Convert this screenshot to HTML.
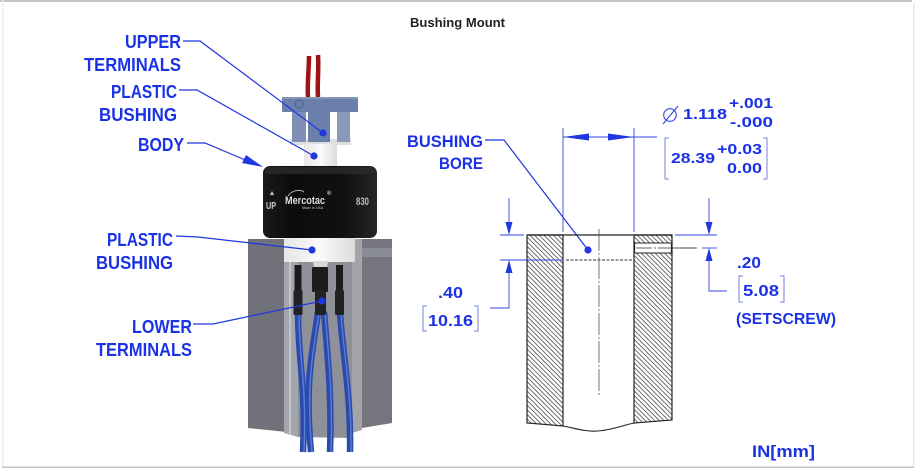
<!DOCTYPE html>
<html><head><meta charset="utf-8"><style>
html,body{margin:0;padding:0;background:#fff;width:915px;height:468px;overflow:hidden}
svg{display:block}
text{font-family:"Liberation Sans",sans-serif;font-weight:bold}
</style></head><body>
<svg width="915" height="468" viewBox="0 0 915 468" xmlns="http://www.w3.org/2000/svg">
<defs>
<pattern id="hat" width="3.3" height="3.3" patternUnits="userSpaceOnUse" patternTransform="rotate(-45)">
<rect width="3.3" height="3.3" fill="#fff"/>
<line x1="0.5" y1="0" x2="0.5" y2="3.3" stroke="#333" stroke-width="0.7"/>
</pattern>
<linearGradient id="bodyg" x1="0" y1="0" x2="1" y2="0">
<stop offset="0" stop-color="#1a1a1a"/><stop offset="0.25" stop-color="#0c0c0c"/><stop offset="0.7" stop-color="#101010"/><stop offset="1" stop-color="#262626"/>
</linearGradient>
<linearGradient id="whg" x1="0" y1="0" x2="1" y2="0">
<stop offset="0" stop-color="#e6e6e6"/><stop offset="0.5" stop-color="#fafafa"/><stop offset="1" stop-color="#dcdcdc"/>
</linearGradient>
</defs>

<!-- page frame -->
<rect x="0" y="0" width="912" height="2" fill="#c4c4c4"/>
<rect x="913" y="3" width="1.5" height="465" fill="#e6e6e6"/>
<rect x="2" y="0" width="1.5" height="467" fill="#ececec"/>
<rect x="2" y="466.5" width="912" height="1.5" fill="#c4c4c4"/>

<text x="410" y="27" font-size="13" fill="#222" textLength="95" lengthAdjust="spacingAndGlyphs">Bushing Mount</text>

<!-- ===== PHOTO ===== -->
<polygon points="248,239 287,239 287,432 248,428" fill="#707179"/>
<polygon points="284,239 298,239 298,437 284,433" fill="#a4a6ad"/>
<rect x="289" y="239" width="2" height="196" fill="#c2c4c9"/>
<polygon points="298,262 352,262 352,438 298,437" fill="#8f9198"/>
<polygon points="352,239 362,239 362,430 352,433" fill="#a2a4aa"/>
<polygon points="362,239 392,239 392,423 362,428" fill="#74757d"/>
<rect x="362" y="248" width="30" height="9" fill="#8b8d95"/>

<rect x="284" y="237" width="71" height="25" fill="url(#whg)"/>

<g fill="none" stroke-linecap="butt">
<g stroke="#2a4bab" stroke-width="6.5">
<path d="M298 312 C298 360 306 385 303 452"/>
<path d="M318 312 C314 345 304 378 311 452"/>
<path d="M324 312 C327 350 332 392 330 452"/>
<path d="M340 312 C342 350 351 392 350 452"/>
</g>
<g stroke="#5a7ed6" stroke-width="1.4">
<path d="M299 312 C299 360 307 385 304 452"/>
<path d="M319 312 C315 345 305 378 312 452"/>
<path d="M325 312 C328 350 333 392 331 452"/>
<path d="M341 312 C343 350 352 392 351 452"/>
</g>
</g>

<rect x="294.5" y="265" width="7" height="27" fill="#1c1c1c"/>
<rect x="293.5" y="290" width="9" height="25" rx="1.5" fill="#222"/>
<polygon points="313,261 328,261 327,268 314,268" fill="#d8d8d8"/>
<rect x="312" y="267" width="16" height="25" rx="1.5" fill="#1c1c1c"/>
<rect x="315" y="290" width="11" height="25" rx="1.5" fill="#222"/>
<rect x="336" y="265" width="7" height="27" fill="#1c1c1c"/>
<rect x="335" y="290" width="9" height="25" rx="1.5" fill="#222"/>

<path d="M309 56 C309 70 307 85 308 97" stroke="#9e1414" stroke-width="4.5" fill="none"/>
<path d="M318 55 C319 70 317 85 318 97" stroke="#9e1414" stroke-width="4.5" fill="none"/>

<rect x="290" y="139" width="61" height="6" fill="#dedede"/>
<rect x="292" y="110" width="14" height="32" fill="#7f90b6"/>
<rect x="308" y="110" width="22" height="32" fill="#6a7fab"/>
<rect x="337" y="110" width="13" height="32" fill="#8a99ba"/>
<rect x="282" y="97" width="76" height="15" rx="1" fill="#6a80ab"/>
<rect x="282" y="97" width="76" height="2" fill="#8596bd"/>
<circle cx="299" cy="104" r="4" fill="none" stroke="#4b5f88" stroke-width="1"/>

<rect x="304" y="144" width="33" height="24" fill="url(#whg)"/>

<rect x="263" y="166" width="114" height="72" rx="7" fill="url(#bodyg)"/>
<rect x="265" y="167" width="110" height="7" rx="3" fill="#2b2b2b" opacity="0.8"/>
<polygon points="270,195 272,191 274,195" fill="#ccc"/>
<text x="266" y="209" font-size="10" font-weight="normal" fill="#cfcfcf" textLength="10" lengthAdjust="spacingAndGlyphs">UP</text>
<text x="285" y="204" font-size="11" font-weight="normal" fill="#dedede" textLength="40" lengthAdjust="spacingAndGlyphs">Mercotac</text>
<path d="M288 196 C292 190 300 189 304 192" stroke="#cfcfcf" stroke-width="0.8" fill="none"/>
<text x="327" y="195" font-size="6" font-weight="normal" fill="#ccc">®</text>
<text x="302" y="209" font-size="3.5" font-weight="normal" fill="#999">Made in USA</text>
<text x="356" y="205" font-size="11" font-weight="normal" fill="#bdbdbd" textLength="13" lengthAdjust="spacingAndGlyphs">830</text>

<g fill="#1a32e6" font-size="18">
<text x="125" y="48" textLength="56" lengthAdjust="spacingAndGlyphs">UPPER</text>
<text x="84" y="71" textLength="97" lengthAdjust="spacingAndGlyphs">TERMINALS</text>
<text x="111" y="98" textLength="66" lengthAdjust="spacingAndGlyphs">PLASTIC</text>
<text x="99" y="121" textLength="78" lengthAdjust="spacingAndGlyphs">BUSHING</text>
<text x="138" y="151" textLength="46" lengthAdjust="spacingAndGlyphs">BODY</text>
<text x="107" y="246" textLength="66" lengthAdjust="spacingAndGlyphs">PLASTIC</text>
<text x="96" y="269" textLength="77" lengthAdjust="spacingAndGlyphs">BUSHING</text>
<text x="132" y="333" textLength="60" lengthAdjust="spacingAndGlyphs">LOWER</text>
<text x="96" y="356" textLength="96" lengthAdjust="spacingAndGlyphs">TERMINALS</text>
</g>

<g stroke="#1f36e0" stroke-width="1.2" fill="none">
<polyline points="183,41 200,41 323,133"/>
<polyline points="179,90 197,90 314,156"/>
<polyline points="187,143 205,143 250,162"/>
<polyline points="176,236 198,237 312,250"/>
<polyline points="193,324 213,324 322,301"/>
<polyline points="485,140 504,140 588,250"/>
</g>
<g fill="#1f36e0">
<circle cx="323" cy="133" r="3.6"/>
<circle cx="314" cy="156" r="3.6"/>
<circle cx="312" cy="250" r="3.6"/>
<circle cx="322" cy="301" r="3.6"/>
<circle cx="588" cy="250" r="3.6"/>
<polygon points="263,167 242,163 246,155"/>
</g>

<!-- ===== SECTION DRAWING ===== -->
<polygon points="527,235 563,235 563,426 527,423" fill="url(#hat)" stroke="#222" stroke-width="1.2"/>
<polygon points="634,235 672,235 672,420 634,423" fill="url(#hat)" stroke="#222" stroke-width="1.2"/>
<rect x="634.6" y="243" width="36.8" height="10" fill="#fff" stroke="#222" stroke-width="1"/>
<line x1="636" y1="248" x2="697" y2="248" stroke="#333" stroke-width="0.8" stroke-dasharray="16,2,2,2"/>
<line x1="527" y1="235" x2="672" y2="235" stroke="#222" stroke-width="1.2"/>
<path d="M563 426 C575 428 585 432 598 431 C612 430 624 425 634 423" stroke="#222" stroke-width="1.1" fill="none"/>
<line x1="566" y1="260" x2="632" y2="260" stroke="#333" stroke-width="1" stroke-dasharray="3,1.5"/>
<line x1="599" y1="229" x2="599" y2="395" stroke="#555" stroke-width="0.8" stroke-dasharray="22,2,2,2"/>

<g stroke="#3346e6" stroke-width="0.9" fill="none">
<line x1="563" y1="128" x2="563" y2="232"/>
<line x1="634" y1="128" x2="634" y2="232"/>
<line x1="563" y1="137" x2="657" y2="137"/>
<line x1="500" y1="235" x2="524" y2="235"/>
<line x1="500" y1="260" x2="563" y2="260"/>
<line x1="509" y1="198" x2="509" y2="230"/>
<polyline points="509,265 509,308 490,308"/>
<line x1="675" y1="235" x2="717" y2="235"/>
<line x1="702" y1="248" x2="717" y2="248"/>
<line x1="709" y1="198" x2="709" y2="230"/>
<polyline points="709,253 709,291 727,291"/>
</g>
<line x1="672" y1="248" x2="697" y2="248" stroke="#333" stroke-width="0.8"/>
<g fill="#1f36e0">
<polygon points="563,137 589,133.5 589,140.5"/>
<polygon points="634,137 608,133.5 608,140.5"/>
<polygon points="509,235 505.5,222 512.5,222"/>
<polygon points="509,260 505.5,273 512.5,273"/>
<polygon points="709,235 705.5,222 712.5,222"/>
<polygon points="709,248 705.5,261 712.5,261"/>
</g>

<g stroke="#7080e0" stroke-width="1" fill="none">
<polyline points="669,138 665,138 665,179 669,179"/>
<polyline points="763,138 767,138 767,179 763,179"/>
<polyline points="427,306 423,306 423,331 427,331"/>
<polyline points="474,306 478,306 478,331 474,331"/>
<polyline points="743,276 739,276 739,302 743,302"/>
<polyline points="780,276 784,276 784,302 780,302"/>
</g>

<circle cx="670" cy="115" r="6.3" fill="none" stroke="#3346e6" stroke-width="1.1"/>
<line x1="663" y1="124" x2="678" y2="106" stroke="#3346e6" stroke-width="1.1"/>

<g fill="#1a32e6">
<text x="683" y="119" font-size="15" textLength="44" lengthAdjust="spacingAndGlyphs">1.118</text>
<text x="729" y="108" font-size="15" textLength="44" lengthAdjust="spacingAndGlyphs">+.001</text>
<text x="730" y="127" font-size="15" textLength="43" lengthAdjust="spacingAndGlyphs">-.000</text>
<text x="671" y="163" font-size="15" textLength="44" lengthAdjust="spacingAndGlyphs">28.39</text>
<text x="717" y="154" font-size="15" textLength="45" lengthAdjust="spacingAndGlyphs">+0.03</text>
<text x="727" y="173" font-size="15" textLength="35" lengthAdjust="spacingAndGlyphs">0.00</text>
<text x="407" y="147" font-size="17" textLength="76" lengthAdjust="spacingAndGlyphs">BUSHING</text>
<text x="439" y="169" font-size="17" textLength="44" lengthAdjust="spacingAndGlyphs">BORE</text>
<text x="438" y="298" font-size="16" textLength="25" lengthAdjust="spacingAndGlyphs">.40</text>
<text x="428" y="326" font-size="16" textLength="45" lengthAdjust="spacingAndGlyphs">10.16</text>
<text x="737" y="268" font-size="16" textLength="24" lengthAdjust="spacingAndGlyphs">.20</text>
<text x="743" y="296" font-size="16" textLength="36" lengthAdjust="spacingAndGlyphs">5.08</text>
<text x="736" y="324" font-size="16" textLength="100" lengthAdjust="spacingAndGlyphs">(SETSCREW)</text>
<text x="752" y="457" font-size="17" textLength="63" lengthAdjust="spacingAndGlyphs">IN[mm]</text>
</g>
</svg>
</body></html>
